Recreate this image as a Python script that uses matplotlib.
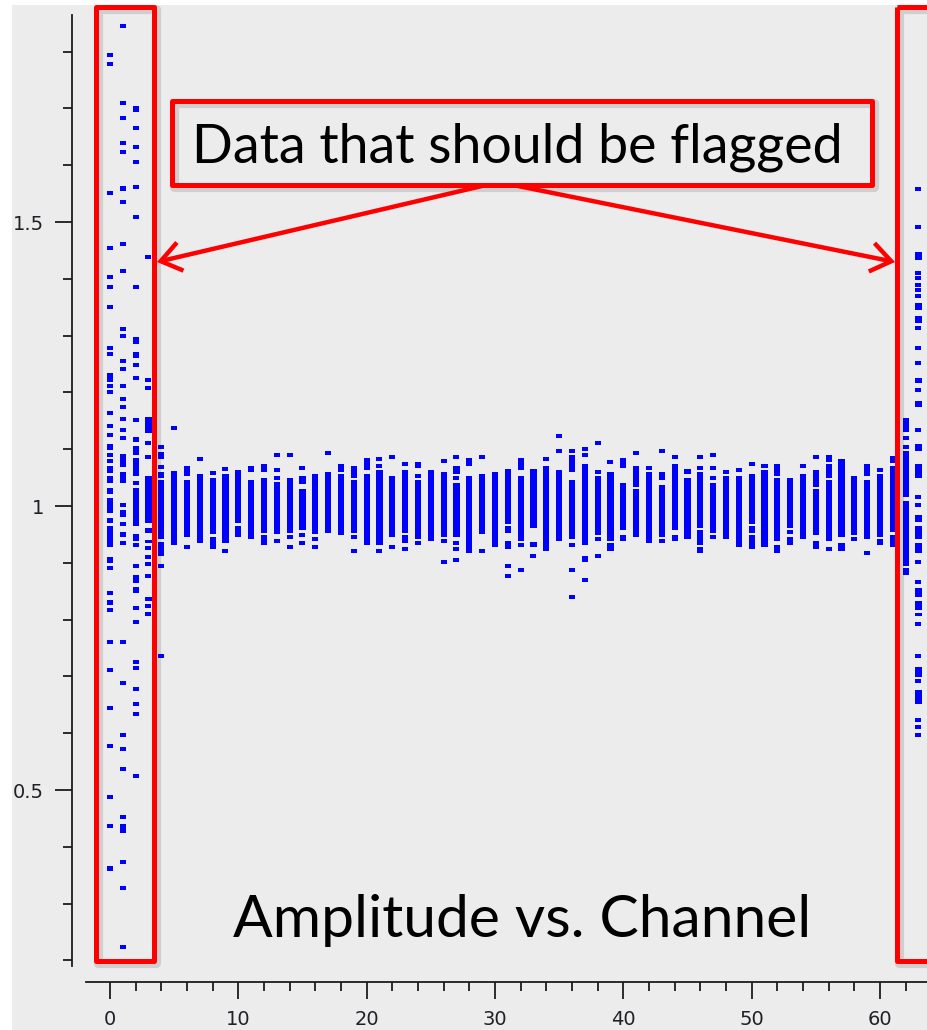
import matplotlib
matplotlib.use("Agg")
import matplotlib.pyplot as plt
from matplotlib.patches import Rectangle, FancyArrowPatch
import numpy as np

W, H = 928, 1030

# ---------------- data: amplitude vs channel ----------------
# dense runs of overlapping points (lo, hi) per channel
edge_segments = {
    0: [(1.219, 1.234), (1.121, 1.128), (1.099, 1.110), (1.058, 1.071), (1.040, 1.052),
        (1.021, 1.031), (0.987, 1.014), (0.970, 0.978), (0.928, 0.964), (0.899, 0.911),
        (0.826, 0.835), (0.357, 0.366)],
    1: [(1.555, 1.563), (1.457, 1.465), (1.069, 1.092), (1.040, 1.059), (0.980, 0.993),
        (0.945, 0.955), (0.425, 0.440)],
    2: [(1.694, 1.704), (1.286, 1.297), (1.260, 1.272), (1.113, 1.121), (1.090, 1.106),
        (1.053, 1.084), (0.965, 1.032), (0.939, 0.951), (0.864, 0.879), (0.847, 0.857)],
    3: [(1.128, 1.157), (0.970, 1.052), (0.952, 0.961), (0.935, 0.941), (0.832, 0.840)],
    62: [(1.130, 1.155), (1.015, 1.097), (0.894, 1.008), (0.879, 0.890)],
    63: [(1.433, 1.448), (1.345, 1.357), (1.322, 1.335), (1.216, 1.225), (1.175, 1.185),
         (1.097, 1.110), (1.049, 1.074), (0.972, 0.985), (0.942, 0.964), (0.917, 0.934),
         (0.840, 0.855), (0.817, 0.832), (0.806, 0.811), (0.699, 0.717), (0.651, 0.676)],
}
edge_points = {
    0: [1.794, 1.779, 1.551, 1.455, 1.404, 1.385, 1.351, 1.278, 1.267, 1.211, 1.201, 1.163,
        1.141, 1.090, 1.080, 0.891, 0.846, 0.817, 0.761, 0.711, 0.644, 0.577, 0.488, 0.437],
    1: [1.845, 1.709, 1.683, 1.639, 1.624, 1.536, 1.414, 1.311, 1.299, 1.255, 1.242, 1.211,
        1.189, 1.175, 1.154, 1.134, 1.119, 1.002, 0.968, 0.934, 0.761, 0.688, 0.596, 0.573,
        0.537, 0.452, 0.374, 0.327, 0.223],
    2: [1.665, 1.632, 1.605, 1.561, 1.509, 1.385, 1.248, 1.226, 1.151, 1.041, 0.931, 0.894,
        0.820, 0.795, 0.726, 0.714, 0.677, 0.651, 0.633, 0.525],
    3: [1.439, 1.222, 1.207, 1.111, 1.086, 0.926, 0.910, 0.898, 0.876, 0.824, 0.810],
    62: [1.119, 1.104],
    63: [1.558, 1.491, 1.411, 1.401, 1.389, 1.380, 1.370, 1.314, 1.278, 1.252, 1.205, 1.134,
         1.016, 1.001, 0.902, 0.867, 0.792, 0.736, 0.692, 0.623, 0.611, 0.596],
}

core_segments = {
    4: [(1.083, 1.095), (1.049, 1.060), (0.942, 1.045), (0.912, 0.937)],
    5: [(0.931, 1.062)],
    6: [(1.052, 1.070), (0.946, 1.046)],
    7: [(0.935, 1.056)],
    8: [(0.950, 1.049), (0.924, 0.945)],
    9: [(0.935, 1.056)],
    10: [(0.970, 1.063), (0.946, 0.964)],
    11: [(1.060, 1.070), (0.942, 1.045)],
    12: [(1.060, 1.074), (0.953, 1.049), (0.931, 0.949)],
    13: [(0.951, 1.043)],
    14: [(0.953, 1.049)],
    15: [(1.039, 1.052), (0.958, 1.030)],
    16: [(0.951, 1.056)],
    17: [(0.953, 1.060)],
    18: [(1.060, 1.074), (0.949, 1.056)],
    19: [(1.049, 1.070), (0.953, 1.045)],
    20: [(1.063, 1.085), (0.931, 1.056)],
    21: [(0.931, 1.063)],
    22: [(0.946, 1.052)],
    23: [(0.953, 1.063), (0.935, 0.949)],
    24: [(1.067, 1.078), (0.942, 1.045)],
    25: [(0.938, 1.063)],
    26: [(0.946, 1.060)],
    27: [(1.056, 1.070), (0.946, 1.041)],
    28: [(1.070, 1.085), (0.917, 1.052)],
    29: [(0.950, 1.056)],
    30: [(0.928, 1.059)],
    31: [(0.968, 1.066), (0.953, 0.964), (0.924, 0.938)],
    32: [(1.063, 1.085), (0.939, 1.052)],
    33: [(0.961, 1.066), (0.927, 0.937)],
    34: [(0.920, 1.070)],
    35: [(0.939, 1.063)],
    36: [(1.060, 1.089), (0.942, 1.045)],
    37: [(0.931, 1.074), (0.902, 0.912)],
    38: [(0.949, 1.052)],
    39: [(0.939, 1.060), (0.920, 0.934)],
    40: [(1.067, 1.085), (0.957, 1.041), (0.938, 0.949)],
    41: [(1.034, 1.070), (0.946, 1.030)],
    42: [(0.935, 1.059)],
    43: [(1.046, 1.059), (0.946, 1.037)],
    44: [(0.958, 1.074), (0.939, 0.949)],
    45: [(1.056, 1.066), (0.942, 1.049)],
    46: [(0.961, 1.059), (0.931, 0.957), (0.917, 0.927)],
    47: [(0.953, 1.041)],
    48: [(0.942, 1.052)],
    49: [(0.928, 1.052)],
    50: [(0.968, 1.056), (0.953, 0.964), (0.924, 0.949)],
    51: [(1.067, 1.074), (0.928, 1.063)],
    52: [(1.053, 1.074), (0.939, 1.049), (0.917, 0.931)],
    53: [(0.961, 1.049), (0.931, 0.946)],
    54: [(0.942, 1.056)],
    55: [(1.034, 1.063), (0.949, 1.030), (0.924, 0.938)],
    56: [(1.078, 1.089), (1.049, 1.074), (0.938, 1.045)],
    57: [(0.946, 1.082), (0.920, 0.934)],
    58: [(0.949, 1.052)],
    59: [(1.053, 1.074), (0.942, 1.045)],
    60: [(0.946, 1.056), (0.931, 0.942)],
    61: [(1.075, 1.088), (0.955, 1.070), (0.928, 0.949)],
}
core_points = {
    4: [1.104, 1.069, 0.894, 0.736], 5: [1.138], 6: [0.927], 7: [1.082], 8: [1.058],
    9: [1.065, 0.920], 13: [1.090, 1.063, 1.049, 0.938], 14: [1.090, 0.946, 0.927],
    15: [1.067, 0.949, 0.935], 16: [0.942, 0.928], 17: [1.093], 19: [0.946, 0.920],
    21: [1.082, 1.071, 0.920], 22: [1.086, 0.928], 23: [1.074, 0.924], 24: [1.053, 0.934],
    26: [1.079, 0.938, 0.901], 27: [1.086, 1.049, 0.935, 0.924, 0.905], 29: [1.086, 0.920],
    31: [0.894, 0.876], 32: [0.931, 0.887], 33: [0.912], 34: [1.082], 35: [1.123, 1.097],
    36: [1.097, 0.931, 0.887, 0.839], 37: [1.100, 1.089, 0.869],
    38: [1.111, 1.060, 0.942, 0.912], 39: [1.078], 41: [1.093], 42: [1.067],
    43: [1.097, 0.938], 44: [1.086], 46: [1.086, 1.067], 47: [1.089, 1.067, 1.049, 0.946],
    48: [1.060], 49: [1.063], 50: [1.074], 53: [0.954], 54: [1.071], 55: [1.086],
    56: [0.924], 58: [0.942], 59: [0.917], 60: [1.063],
}

x_major = [0, 10, 20, 30, 40, 50, 60]
y_major = [0.5, 1.0, 1.5]
y_major_labels = ["0.5", "1", "1.5"]

title_text = "Amplitude vs. Channel"
note_text = "Data that should be flagged"

# ---------------- figure ----------------
fig = plt.figure(figsize=(W / 100, H / 100), dpi=100)
fig.patch.set_facecolor("white")
fig.add_artist(Rectangle((12 / W, 0), 1, (H - 5) / H, transform=fig.transFigure,
                         facecolor="#ececec", edgecolor="none", zorder=0))

# main axes (pixel layout: x=0 at 110px, 12.833 px/channel; y=1 at 506px, 568 px/unit)
ax = fig.add_axes([72 / W, (H - 982) / H, (W - 72) / W, (982 - 15) / H])
ax.patch.set_alpha(0)
ax.set_xlim((72 - 110) / 12.833, (928 - 110) / 12.833)
ax.set_ylim(1 - (982 - 506) / 568, 1 + (506 - 15) / 568)

blue = "#0000ff"
seg_x, seg_lo, seg_h = [], [], []
pt_x, pt_y = [], []
for segs in (edge_segments, core_segments):
    for ch, lst in segs.items():
        for lo, hi in lst:
            seg_x.append(ch); seg_lo.append(lo); seg_h.append(hi - lo)
for pts in (edge_points, core_points):
    for ch, lst in pts.items():
        for v in lst:
            pt_x.append(ch); pt_y.append(v)

ax.bar(seg_x, seg_h, bottom=seg_lo, width=0.48, color=blue, linewidth=0, zorder=3)
rect_marker = [(-1, -0.62), (1, -0.62), (1, 0.62), (-1, 0.62), (-1, -0.62)]
ax.plot(pt_x, pt_y, linestyle="none", marker=rect_marker, markersize=4.4,
        color=blue, markeredgewidth=0, zorder=3)

for s in ("top", "right"):
    ax.spines[s].set_visible(False)
axc = "#1c1c1c"
ax.spines["left"].set_bounds(0.19, ax.get_ylim()[1])
ax.spines["bottom"].set_bounds(-1.87, ax.get_xlim()[1])
for s in ("left", "bottom"):
    ax.spines[s].set_linewidth(1.3)
    ax.spines[s].set_color(axc)

ax.set_xticks(x_major)
ax.set_xticks(np.arange(2, 64, 2), minor=True)
ax.set_yticks(y_major)
ax.set_yticklabels(y_major_labels)
ax.set_yticks(np.arange(0.2, 1.85, 0.1), minor=True)
ax.tick_params(which="major", direction="out", length=12, width=1.3, color=axc,
               labelsize=14, labelcolor="#202028", pad=8)
ax.tick_params(which="minor", direction="out", length=6.5, width=1.3, color=axc)

# ---------------- overlay annotations in pixel coordinates ----------------
ov = fig.add_axes([0, 0, 1, 1], zorder=5)
ov.set_xlim(0, W)
ov.set_ylim(H, 0)
ov.axis("off")
ov.patch.set_alpha(0)

red = "#ff0000"
lw_box = 3.6


def box(x0, y0, x1, y1):
    sh = Rectangle((x0 + 2, y0 + 2), x1 - x0, y1 - y0, fill=False, edgecolor="#000000",
                   alpha=0.12, linewidth=lw_box + 3, joinstyle="round")
    ov.add_patch(sh)
    r = Rectangle((x0, y0), x1 - x0, y1 - y0, fill=False, edgecolor=red,
                  linewidth=lw_box, joinstyle="round")
    ov.add_patch(r)


box(96.5, 6.5, 154.5, 960.5)
box(897.5, 6.5, 960, 960.5)
box(172.5, 100.5, 872.5, 184.5)

for (x0, y0, x1, y1) in [(482, 186, 157, 262), (518, 186, 895, 262)]:
    a = FancyArrowPatch((x0, y0), (x1, y1), arrowstyle="->,head_length=0.36,head_width=0.26",
                        mutation_scale=40, color=red, linewidth=3.2, shrinkA=0, shrinkB=0,
                        joinstyle="miter", capstyle="butt")
    ov.add_patch(a)

fig.canvas.draw()
renderer = fig.canvas.get_renderer()


def fitted(x, y, s, target_w, color):
    t = ov.text(x, y, s, fontsize=30, family=["Lato", "DejaVu Sans"], ha="left",
                va="baseline", color=color)
    w = t.get_window_extent(renderer).width
    t.set_fontsize(30 * target_w / w)
    return t


fitted(192, 162, note_text, 651, "black")
fitted(233, 937, title_text, 577, "black")

fig.savefig("out.png", dpi=100, facecolor=fig.get_facecolor())
